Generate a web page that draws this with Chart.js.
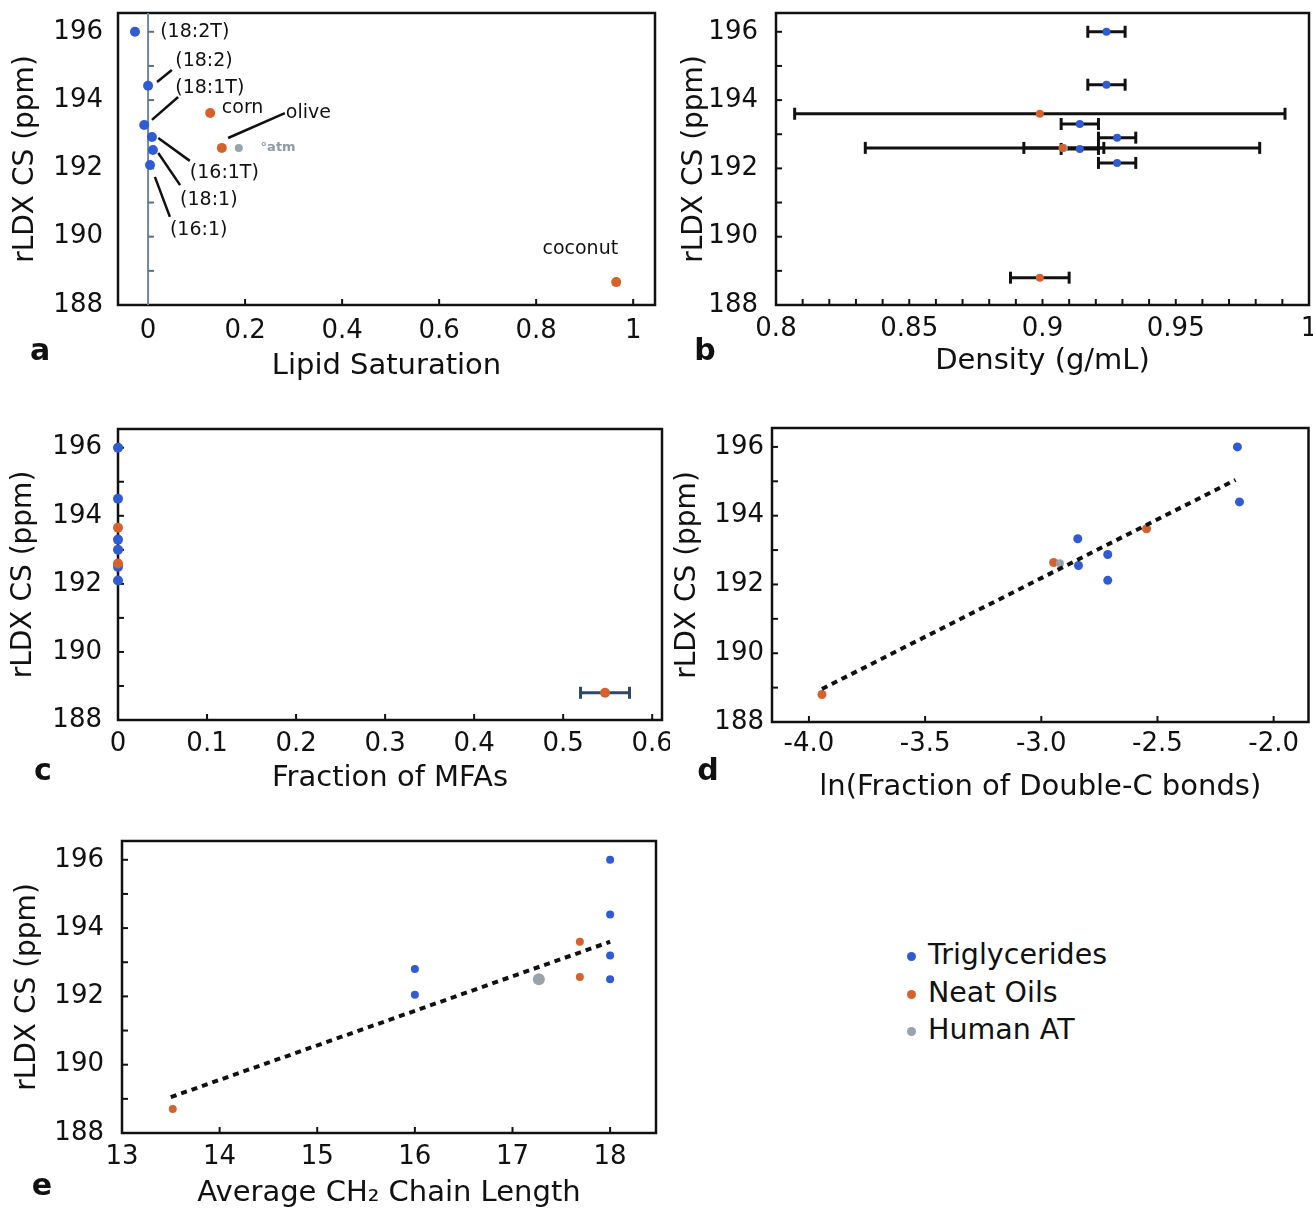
<!DOCTYPE html>
<html>
<head>
<meta charset="utf-8">
<script src="https://cdn.jsdelivr.net/npm/chart.js@4.4.1/dist/chart.umd.min.js"></script>
<style>
  body { margin: 0; background: #fff; width: 1313px; height: 1213px; position: relative; overflow: hidden; font-family: 'DejaVu Sans', sans-serif; }
  canvas { position: absolute; }
  .tag { position: absolute; font: bold 30px 'DejaVu Sans', sans-serif; color: #111; line-height: 30px; transform: translate(-50%, -50%); }
  .leg { position: absolute; left: 928px; font: 28.5px 'DejaVu Sans', sans-serif; color: #111; line-height: 36px; height: 36px; white-space: nowrap; }
  .dot { position: absolute; width: 9px; height: 9px; border-radius: 50%; }
</style>
</head>
<body>
<canvas id="pa" width="660" height="400" style="left:0;top:0"></canvas>
<canvas id="pb" width="663" height="400" style="left:650px;top:0"></canvas>
<canvas id="pc" width="670" height="400" style="left:0;top:410px"></canvas>
<canvas id="pd" width="653" height="400" style="left:660px;top:410px"></canvas>
<canvas id="pe" width="670" height="393" style="left:0;top:820px"></canvas>

<div class="tag" style="left:40px;top:350px">a</div>
<div class="tag" style="left:705px;top:350px">b</div>
<div class="tag" style="left:43px;top:770px">c</div>
<div class="tag" style="left:708px;top:770px">d</div>
<div class="tag" style="left:42px;top:1185px">e</div>

<div id="legend"></div>

<script>
// colours of the three groups
const groupNames = ['Triglycerides', 'Neat Oils', 'Human AT'];
const groupColors = ['#2f5bd3', '#d5622c', '#9aa2aa'];

// shared y axis
const yTickVals = [188, 190, 192, 194, 196];
const yMinorVals = [189, 190, 191, 192, 193, 194, 195, 196];

// panel a: lipid saturation
const aTriX = [-0.027, 0.0, -0.008, 0.008, 0.01, 0.004];
const aTriY = [196.0, 194.42, 193.27, 192.92, 192.54, 192.1];
const aOilX = [0.128, 0.152, 0.965];
const aOilY = [193.62, 192.6, 188.67];
const aHumX = [0.187];
const aHumY = [192.6];
const aXTicks = [0, 0.2, 0.4, 0.6, 0.8, 1];
const aXLabels = ['0', '0.2', '0.4', '0.6', '0.8', '1'];
const aLabels = ['(18:2T)', '(18:2)', '(18:1T)', 'corn', 'olive', '(16:1T)', '(18:1)', '(16:1)', 'coconut'];
const aLabelX = [0.025, 0.056, 0.056, 0.152, 0.284, 0.086, 0.066, 0.045, 0.813];
const aLabelY = [196.0, 195.15, 194.36, 193.77, 193.62, 191.86, 191.07, 190.19, 189.64];
// leader lines [x1, y1, x2, y2]
const aLeaders = [
  [0.0185, 194.53, 0.049, 194.88],
  [0.008, 193.42, 0.062, 194.09],
  [0.165, 192.89, 0.282, 193.62],
  [0.021, 192.89, 0.086, 192.22],
  [0.021, 192.45, 0.066, 191.51],
  [0.014, 191.75, 0.045, 190.58]
];

// panel b: density
const bTriX = [0.924, 0.924, 0.914, 0.928, 0.914, 0.928];
const bTriY = [196.0, 194.45, 193.3, 192.9, 192.57, 192.16];
const bTriErr = [0.007, 0.007, 0.007, 0.007, 0.007, 0.007];
const bOilX = [0.899, 0.9075, 0.899];
const bOilY = [193.6, 192.6, 188.8];
const bOilErr = [0.092, 0.074, 0.011];
const bHumX = [0.908];
const bHumY = [192.6];
const bHumErr = [0.015];
const bXTicks = [0.8, 0.85, 0.9, 0.95, 1];
const bXLabels = ['0.8', '0.85', '0.9', '0.95', '1'];
const bXMinor = [0.81, 0.82, 0.83, 0.84, 0.85, 0.86, 0.87, 0.88, 0.89, 0.9, 0.91, 0.92, 0.93, 0.94, 0.95, 0.96, 0.97, 0.98, 0.99];

// panel c: fraction of MFAs
const cTriX = [0, 0, 0, 0, 0, 0];
const cTriY = [196.0, 194.5, 193.3, 193.0, 192.5, 192.1];
const cOilX = [0, 0, 0.547];
const cOilY = [193.65, 192.6, 188.8];
const cOilErr = [0, 0, 0.0275];
const cXTicks = [0, 0.1, 0.2, 0.3, 0.4, 0.5, 0.6];
const cXLabels = ['0', '0.1', '0.2', '0.3', '0.4', '0.5', '0.6'];

// panel d: ln(fraction of double-C bonds)
const dTriX = [-2.156, -2.147, -2.843, -2.84, -2.714, -2.714];
const dTriY = [196.0, 194.4, 193.33, 192.55, 192.87, 192.12];
const dOilX = [-2.547, -2.947, -3.944];
const dOilY = [193.62, 192.64, 188.8];
const dHumX = [-2.92];
const dHumY = [192.62];
const dFitX = [-3.944, -2.164];
const dFitY = [188.96, 195.04];
const dXTicks = [-4, -3.5, -3, -2.5, -2];
const dXLabels = ['-4.0', '-3.5', '-3.0', '-2.5', '-2.0'];

// panel e: average CH2 chain length
const eTriX = [18, 18, 18, 18, 16, 16];
const eTriY = [196.0, 194.4, 193.2, 192.5, 192.8, 192.05];
const eOilX = [17.69, 17.69, 13.52];
const eOilY = [193.6, 192.57, 188.7];
const eHumX = [17.27];
const eHumY = [192.5];
const eFitX = [13.5, 18.0];
const eFitY = [189.05, 193.6];
const eXTicks = [13, 14, 15, 16, 17, 18];
const eXLabels = ['13', '14', '15', '16', '17', '18'];

Chart.defaults.font.family = "'DejaVu Sans', sans-serif";
Chart.defaults.color = '#111';

function pts(xs, ys) {
  return xs.map((x, i) => ({ x: x, y: ys[i] }));
}

function dots(xs, ys, color, r, err, errColor) {
  return {
    data: pts(xs, ys),
    backgroundColor: color,
    borderColor: color,
    pointBorderWidth: 0,
    pointRadius: r,
    clip: false,
    xErr: err,
    errColor: errColor
  };
}

function fitLine(xs, ys) {
  return {
    data: pts(xs, ys),
    showLine: true,
    borderColor: '#111',
    borderWidth: 4,
    borderDash: [6, 5],
    pointRadius: 0
  };
}

function line(ctx, x1, y1, x2, y2) {
  ctx.beginPath();
  ctx.moveTo(x1, y1);
  ctx.lineTo(x2, y2);
  ctx.stroke();
}

const panelDeco = {
  id: 'panelDeco',
  beforeDatasetsDraw(chart, args, opts) {
    const ctx = chart.ctx;
    const ca = chart.chartArea;
    const x = chart.scales.x, y = chart.scales.y;
    ctx.save();
    ctx.strokeStyle = '#111';
    ctx.lineWidth = 2.5;
    ctx.strokeRect(ca.left, ca.top, ca.right - ca.left, ca.bottom - ca.top);

    let yx = ca.left;
    if (opts.zeroLine !== undefined) {
      yx = x.getPixelForValue(opts.zeroLine);
      ctx.strokeStyle = '#7186a0';
      ctx.lineWidth = 2;
      line(ctx, yx, ca.top, yx, ca.bottom);
    }
    ctx.strokeStyle = opts.zeroLine !== undefined ? '#5d6f86' : '#111';
    ctx.lineWidth = 2;
    (opts.yTicks || []).forEach(v => {
      const py = y.getPixelForValue(v);
      line(ctx, yx, py, yx + 6, py);
    });
    ctx.strokeStyle = '#111';
    (opts.xTicks || []).forEach(v => {
      const px = x.getPixelForValue(v);
      line(ctx, px, ca.bottom, px, ca.bottom - 6);
    });

    // leader lines
    ctx.lineWidth = 2.5;
    (opts.leaders || []).forEach(l => {
      line(ctx, x.getPixelForValue(l[0]), y.getPixelForValue(l[1]), x.getPixelForValue(l[2]), y.getPixelForValue(l[3]));
    });

    // horizontal error bars
    chart.data.datasets.forEach(ds => {
      if (!ds.xErr) return;
      ctx.strokeStyle = ds.errColor || '#111';
      ctx.lineWidth = 3;
      ds.data.forEach((p, i) => {
        const e = ds.xErr[i];
        if (!e) return;
        const py = y.getPixelForValue(p.y);
        const x1 = x.getPixelForValue(p.x - e), x2 = x.getPixelForValue(p.x + e);
        line(ctx, x1, py, x2, py);
        line(ctx, x1, py - 6, x1, py + 6);
        line(ctx, x2, py - 6, x2, py + 6);
      });
    });
    ctx.restore();
  },
  afterDatasetsDraw(chart, args, opts) {
    if (!opts.labels) return;
    const ctx = chart.ctx;
    const x = chart.scales.x, y = chart.scales.y;
    ctx.save();
    ctx.fillStyle = '#111';
    ctx.font = "19px 'DejaVu Sans', sans-serif";
    ctx.textBaseline = 'middle';
    ctx.textAlign = 'left';
    opts.labels.forEach((t, i) => {
      ctx.fillText(t, x.getPixelForValue(opts.labelX[i]), y.getPixelForValue(opts.labelY[i]));
    });
    if (opts.note) {
      ctx.fillStyle = '#8f9aa6';
      ctx.font = "bold 13px 'DejaVu Sans', sans-serif";
      ctx.fillText(opts.note[0], x.getPixelForValue(opts.note[1]), y.getPixelForValue(opts.note[2]));
    }
    ctx.restore();
  }
};

function makePanel(id, p) {
  const canvas = document.getElementById(id);
  return new Chart(canvas, {
    type: 'scatter',
    data: { datasets: p.datasets },
    plugins: [panelDeco],
    options: {
      responsive: false,
      animation: false,
      layout: { padding: { left: 0, top: p.top, right: p.right, bottom: 0 } },
      plugins: {
        legend: { display: false },
        tooltip: { enabled: false },
        panelDeco: p.deco
      },
      scales: {
        x: {
          type: 'linear',
          min: p.xMin,
          max: p.xMax,
          afterBuildTicks: s => { s.ticks = p.xTicks.map(v => ({ value: v })); },
          afterFit: s => { s.height = p.xH; s.paddingLeft = 0; s.paddingRight = 0; },
          grid: { display: false, drawTicks: false },
          border: { display: false },
          ticks: {
            autoSkip: false,
            maxRotation: 0,
            padding: p.xTickPad,
            font: { size: 26 },
            callback: (v, i) => p.xLabels[i]
          },
          title: { display: true, text: p.xTitle, font: { size: 29 }, padding: { top: 0, bottom: p.xTitlePad } }
        },
        y: {
          type: 'linear',
          min: 188,
          max: 196.55,
          afterBuildTicks: s => { s.ticks = yTickVals.map(v => ({ value: v })); },
          afterFit: s => { s.width = p.yW; s.paddingTop = 0; s.paddingBottom = 0; },
          grid: { display: false, drawTicks: false },
          border: { display: false },
          ticks: { padding: p.yTickPad, font: { size: 26 } },
          title: { display: true, text: 'rLDX CS (ppm)', font: { size: 28 }, padding: { top: p.yTitlePad, bottom: 0 } }
        }
      }
    }
  });
}

const [blue, orange, grey] = groupColors;

makePanel('pa', {
  top: 13, right: 4, xH: 95, yW: 118,
  xMin: -0.062, xMax: 1.045, xTicks: aXTicks, xLabels: aXLabels,
  xTickPad: 11, xTitle: 'Lipid Saturation', xTitlePad: 16, yTickPad: 15, yTitlePad: 9,
  deco: { zeroLine: 0, yTicks: yMinorVals, xTicks: aXTicks.slice(1), leaders: aLeaders,
    labels: aLabels, labelX: aLabelX, labelY: aLabelY, note: ['°atm', 0.232, 192.62] },
  datasets: [
    dots(aHumX, aHumY, grey, 4),
    dots(aOilX, aOilY, orange, 5),
    dots(aTriX, aTriY, blue, 5)
  ]
});

makePanel('pb', {
  top: 13, right: 3, xH: 95, yW: 126,
  xMin: 0.8, xMax: 1.0, xTicks: bXTicks, xLabels: bXLabels,
  xTickPad: 9, xTitle: 'Density (g/mL)', xTitlePad: 21, yTickPad: 18, yTitlePad: 28,
  deco: { yTicks: yMinorVals, xTicks: bXMinor },
  datasets: [
    dots(bOilX, bOilY, orange, 4, bOilErr),
    dots(bHumX, bHumY, grey, 4, bHumErr),
    dots(bTriX, bTriY, blue, 4, bTriErr)
  ]
});

makePanel('pc', {
  top: 19, right: 8, xH: 90, yW: 118,
  xMin: 0, xMax: 0.611, xTicks: cXTicks, xLabels: cXLabels,
  xTickPad: 9, xTitle: 'Fraction of MFAs', xTitlePad: 14, yTickPad: 16, yTitlePad: 7,
  deco: { yTicks: yMinorVals, xTicks: cXTicks.slice(1) },
  datasets: [
    dots(cOilX, cOilY, orange, 5, cOilErr, '#2e4a68'),
    dots(cTriX, cTriY, blue, 5)
  ]
});

makePanel('pd', {
  top: 18, right: 4, xH: 88, yW: 112,
  xMin: -4.159, xMax: -1.85, xTicks: dXTicks, xLabels: dXLabels,
  xTickPad: 7, xTitle: 'ln(Fraction of Double-C bonds)', xTitlePad: 5, yTickPad: 8, yTitlePad: 11,
  deco: { yTicks: yMinorVals, xTicks: dXTicks },
  datasets: [
    fitLine(dFitX, dFitY),
    dots(dHumX, dHumY, grey, 4),
    dots(dOilX, dOilY, orange, 4.5),
    dots(dTriX, dTriY, blue, 4.5)
  ]
});

makePanel('pe', {
  top: 21, right: 14, xH: 80, yW: 122,
  xMin: 13, xMax: 18.47, xTicks: eXTicks, xLabels: eXLabels,
  xTickPad: 9, xTitle: 'Average CH\u2082 Chain Length', xTitlePad: 2, yTickPad: 18, yTitlePad: 11,
  deco: { yTicks: yMinorVals, xTicks: eXTicks.slice(1) },
  datasets: [
    fitLine(eFitX, eFitY),
    dots(eHumX, eHumY, grey, 6),
    dots(eOilX, eOilY, orange, 4),
    dots(eTriX, eTriY, blue, 4)
  ]
});

// legend (outside the panels)
const legendTop = [955, 993, 1030];
const legend = document.getElementById('legend');
groupNames.forEach((name, i) => {
  const d = document.createElement('div');
  d.className = 'dot';
  d.style.left = '907px';
  d.style.top = (legendTop[i] - 3) + 'px';
  d.style.background = groupColors[i];
  legend.appendChild(d);
  const t = document.createElement('div');
  t.className = 'leg';
  t.style.top = (legendTop[i] - 18) + 'px';
  t.textContent = name;
  legend.appendChild(t);
});
</script>
</body>
</html>
